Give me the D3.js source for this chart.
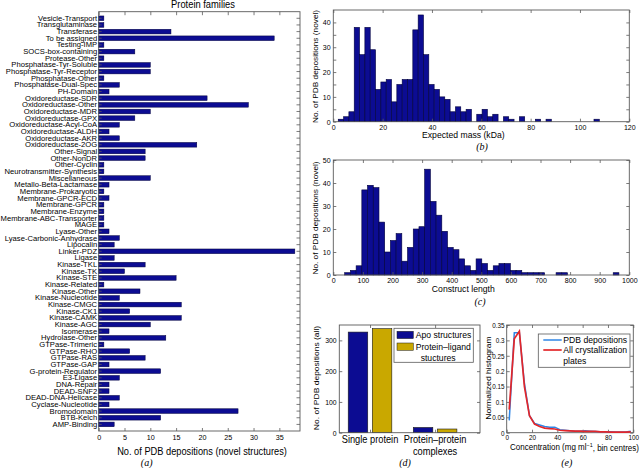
<!DOCTYPE html>
<html><head><meta charset="utf-8">
<script src="https://cdn.jsdelivr.net/npm/d3@7"></script>
<style>
body{margin:0;background:#fff;}
svg{display:block;background:#fff;}
</style></head><body>
<svg id="chart" width="640" height="468"></svg>
<script>
// ---------- DATA ----------
// (a) protein families, listed top to bottom as drawn
const families = ["Vesicle-Transport","Transglutaminase","Transferase","To be assigned","Testing-IMP","SOCS-box-containing","Protease-Other","Phosphatase-Tyr-Soluble","Phosphatase-Tyr-Receptor","Phosphatase-Other","Phosphatase-Dual-Spec","PH-Domain","Oxidoreductase-SDR","Oxidoreductase-Other","Oxidoreductase-MDR","Oxidoreductase-GPX","Oxidoreductase-Acyl-CoA","Oxidoreductase-ALDH","Oxidoreductase-AKR","Oxidoreductase-2OG","Other-Signal","Other-NonDR","Other-Cyclin","Neurotransmitter-Synthesis","Miscellaneous","Metallo-Beta-Lactamase","Membrane-Prokaryotic","Membrane-GPCR-ECD","Membrane-GPCR","Membrane-Enzyme","Membrane-ABC-Transporter","MAGE","Lyase-Other","Lyase-Carbonic-Anhydrase","Lipocalin","Linker-PDZ","Ligase","Kinase-TKL","Kinase-TK","Kinase-STE","Kinase-Related","Kinase-Other","Kinase-Nucleotide","Kinase-CMGC","Kinase-CK1","Kinase-CAMK","Kinase-AGC","Isomerase","Hydrolase-Other","GTPase-Trimeric","GTPase-RHO","GTPase-RAS","GTPase-GAP","G-protein-Regulator","E3-Ligase","DNA-Repair","DEAD-SNF2","DEAD-DNA-Helicase","Cyclase-Nucleotide","Bromodomain","BTB-Kelch","AMP-Binding"];
const familyCounts = [1,1,14,34,1,7,1,10,10,1,4,2,21,29,10,7,4,2,4,19,9,9,1,1,10,2,1,2,1,1,1,1,2,4,3,38,3,9,5,15,1,8,4,16,6,16,10,2,13,1,6,9,2,12,4,2,2,4,2,27,12,3];
const familyTicks = [0,5,10,15,20,25,30,35];

// (b) expected mass histogram
const massCounts = [1,2,4,38,27,38,29,13,16,17,8,15,17,17,37,43,27,15,13,10,9,4,6,4,5,0,3,5,2,3,0,2,1,0,2,0,0,1,0,1,0,0,0,0,0,0,0,0,1];
const massBinStart = 2.0, massBinWidth = 2.16;
const massXTicks = [0,20,40,60,80,100,120];
const massYTicks = [0,10,20,30,40];

// (c) construct length histogram
const lengthCounts = [1,2,4,37,39,38,23,10,15,18,6,12,20,21,46,32,26,19,12,11,7,4,2,7,5,2,4,5,5,2,2,1,1,1,1,0,0,1,1,0,0,0,0,0,0,0,0,1];
const lengthBinStart = 38.5, lengthBinWidth = 19.3;
const lengthXTicks = [0,100,200,300,400,500,600,700,800,900,1000];
const lengthYTicks = [0,10,20,30,40,50];

// (d) single protein vs complexes
const complexCategories = ["Single protein","Protein\u2013protein\ncomplexes"];
const complexSeries = ["Apo structures","Protein\u2013ligand\nstuctures"];
const apoValues = [327,17];
const ligandValues = [338,12];
const complexYTicks = [0,100,200,300];

// (e) concentration normalized histograms
const concCentres = [2,6,10,14,18,22,26,30,34,38,42,46,50,54,58,62,66,70,74,78,82,86,90,94,98];
const pdbHist   = [0.04,0.325,0.325,0.16,0.055,0.03,0.025,0.02,0.018,0.018,0.01,0.008,0.006,0.005,0.005,0.006,0.005,0.004,0.003,0.003,0.003,0.002,0.002,0.002,0.005];
const plateHist = [0.075,0.305,0.33,0.15,0.055,0.028,0.02,0.015,0.013,0.012,0.008,0.007,0.006,0.005,0.005,0.004,0.004,0.004,0.003,0.003,0.002,0.002,0.002,0.002,0.003];
const concSeries = ["PDB depositions","All crystallization\nplates"];
const concXTicks = [0,20,40,60,80,100];
const concYTicks = [0,0.05,0.1,0.15,0.2,0.25,0.3,0.35];

// ---------- STYLE ----------
const FONT = '"Liberation Sans", Arial, Helvetica, sans-serif';
const SERIF = '"Liberation Serif", "Times New Roman", serif';
const AX = '#5a5a5a';
const BLUE = '#0c0c92', EDGE = '#00003c', YELLOW = '#c9a800';
const SX = 0.9;

const svg = d3.select('#chart');

function addText(g, x, y, str, o = {}) {
  const size = o.size || 10, sx = o.sx || SX;
  const lines = String(str).split('\n');
  const t = g.append('text')
    .attr('transform', `translate(${x},${y}) scale(${sx},1)` + (o.rotate ? ` rotate(${o.rotate})` : ''))
    .attr('text-anchor', o.anchor || 'middle')
    .attr('font-family', o.serif ? SERIF : FONT)
    .attr('font-style', o.italic ? 'italic' : null)
    .attr('font-size', size)
    .attr('fill', '#000');
  lines.forEach((l, i) => {
    t.append('tspan').attr('x', (o.lineX && o.lineX[i]) || 0).attr('dy', i === 0 ? '0.35em' : (o.lh || 1.1) + 'em').text(l);
  });
  return t;
}

function styleAxis(sel, fs, sx) {
  sel.select('.domain').remove();
  sel.attr('font-family', FONT).attr('font-size', fs);
  sel.selectAll('.tick line').attr('stroke', AX).attr('stroke-width', 0.8);
  sel.selectAll('.tick text').attr('fill', '#000').attr('transform', `scale(${sx},1)`);
}

// Generic frame with MATLAB-like inward ticks on four sides
function frame(g, xs, ys, o) {
  const [x0, x1] = xs.range();
  const [yb, yt] = ys.range();
  const tl = o.tl || 3;
  const bottom = g.append('g').attr('transform', `translate(0,${yb})`)
    .call(d3.axisBottom(xs).tickValues(o.xTicks).tickFormat(o.xFmt || (d => d)).tickSizeInner(-tl).tickSizeOuter(0).tickPadding(o.xPad || 3));
  styleAxis(bottom, o.fs || 8, o.tsx || 0.88);
  const top = g.append('g').attr('transform', `translate(0,${yt})`)
    .call(d3.axisTop(xs).tickValues(o.xTopTicks || o.xTicks).tickFormat('').tickSizeInner(-tl).tickSizeOuter(0));
  styleAxis(top, 8, 1);
  const left = g.append('g').attr('transform', `translate(${x0},0)`)
    .call(d3.axisLeft(ys).tickValues(o.yMinor || o.yTicks).tickFormat(d => (o.yTicks.includes(d) ? (o.yFmt ? o.yFmt(d) : d) : '')).tickSizeInner(-tl).tickSizeOuter(0).tickPadding(o.yPad || 3));
  styleAxis(left, o.fs || 8, o.tsx || 0.88);
  const right = g.append('g').attr('transform', `translate(${x1},0)`)
    .call(d3.axisRight(ys).tickValues(o.yMinor || o.yTicks).tickFormat('').tickSizeInner(-tl).tickSizeOuter(0));
  styleAxis(right, 8, 1);
  g.append('rect').attr('x', x0).attr('y', yt).attr('width', x1 - x0).attr('height', yb - yt)
    .attr('fill', 'none').attr('stroke', AX).attr('stroke-width', 0.9);
  return bottom;
}

// ---------- (a) Protein families ----------
{
  const g = svg.append('g');
  const x = d3.scaleLinear().domain([0, 39]).range([98.7, 300]);
  const y = d3.scaleBand().domain(families).range([11.7, 431]).paddingInner(0.3).paddingOuter(0.64);
  g.selectAll('rect.bar').data(families).join('rect').attr('class', 'bar')
    .attr('x', x(0)).attr('y', d => y(d))
    .attr('width', (d, i) => x(familyCounts[i]) - x(0)).attr('height', y.bandwidth())
    .attr('fill', BLUE).attr('stroke', EDGE).attr('stroke-width', 0.5);
  const bottom = g.append('g').attr('transform', `translate(0,431)`)
    .call(d3.axisBottom(x).tickValues(familyTicks).tickSizeInner(-3).tickSizeOuter(0).tickPadding(3.5));
  styleAxis(bottom, 8, 0.9);
  const top = g.append('g').attr('transform', `translate(0,11.7)`)
    .call(d3.axisTop(x).tickValues(familyTicks).tickFormat('').tickSizeInner(-3.5).tickSizeOuter(0));
  styleAxis(top, 8, 1);
  const left = g.append('g').attr('transform', `translate(98.7,0)`)
    .call(d3.axisLeft(y).tickSizeInner(-3).tickSizeOuter(0).tickPadding(1.6));
  styleAxis(left, 7.8, 0.98);
  const right = g.append('g').attr('transform', `translate(300,0)`)
    .call(d3.axisRight(y).tickFormat('').tickSizeInner(-3.5).tickSizeOuter(0));
  styleAxis(right, 8, 1);
  g.append('rect').attr('x', 98.7).attr('y', 11.7).attr('width', 300 - 98.7).attr('height', 431 - 11.7)
    .attr('fill', 'none').attr('stroke', AX).attr('stroke-width', 0.9);
  addText(g, 203, 4.8, 'Protein families', {size: 10.4});
  addText(g, 202, 451, 'No. of PDB depositions (novel structures)', {size: 10.3});
  addText(g, 146.7, 462, '(a)', {size: 10, serif: true, italic: true, sx: 1});
}

// ---------- histogram helper ----------
function histogram(g, counts, start, width, x, y) {
  const bins = counts.map((c, i) => ({c, x0: start + i * width, x1: start + (i + 1) * width})).filter(b => b.c > 0);
  g.selectAll('rect.hb').data(bins).join('rect').attr('class', 'hb')
    .attr('x', d => x(d.x0)).attr('width', d => x(d.x1) - x(d.x0))
    .attr('y', d => y(d.c)).attr('height', d => y(0) - y(d.c))
    .attr('fill', BLUE).attr('stroke', EDGE).attr('stroke-width', 0.6);
}

// ---------- (b) Expected mass ----------
{
  const g = svg.append('g');
  const x = d3.scaleLinear().domain([0, 120]).range([333.3, 629.3]);
  const y = d3.scaleLinear().domain([0, 45]).range([121.7, 10]);
  histogram(g, massCounts, massBinStart, massBinWidth, x, y);
  frame(g, x, y, {xTicks: massXTicks, yTicks: massYTicks, yMinor: [0,5,10,15,20,25,30,35,40], xPad: 2.5, yPad: 3});
  addText(g, 315, 66.5, 'No. of PDB depositions (novel)', {size: 8.3, rotate: -90});
  addText(g, 463.3, 134.8, 'Expected mass (kDa)', {size: 9.6});
  addText(g, 482, 146.5, '(b)', {size: 10, serif: true, italic: true, sx: 1});
}

// ---------- (c) Construct length ----------
{
  const g = svg.append('g');
  const x = d3.scaleLinear().domain([0, 1000]).range([333.3, 629.3]);
  const y = d3.scaleLinear().domain([0, 50]).range([275, 160]);
  histogram(g, lengthCounts, lengthBinStart, lengthBinWidth, x, y);
  frame(g, x, y, {xTicks: lengthXTicks, yTicks: lengthYTicks, xPad: 2.5, yPad: 3});
  addText(g, 315, 218, 'No. of PDB depositions (novel)', {size: 8.3, rotate: -90});
  addText(g, 463.3, 288.3, 'Construct length', {size: 9.6});
  addText(g, 480, 301.5, '(c)', {size: 10, serif: true, italic: true, sx: 1});
}

// ---------- (d) Complexes ----------
{
  const g = svg.append('g');
  const x = d3.scaleLinear().domain([0.528, 2.69]).range([339.3, 480]);
  const y = d3.scaleLinear().domain([0, 350]).range([432.7, 325]);
  const half = 0.15, off = 0.185;
  const rows = [];
  complexCategories.forEach((c, i) => {
    rows.push({v: apoValues[i], cx: i + 1 - off, col: BLUE});
    rows.push({v: ligandValues[i], cx: i + 1 + off, col: YELLOW});
  });
  g.selectAll('rect.cb').data(rows).join('rect').attr('class', 'cb')
    .attr('x', d => x(d.cx - half)).attr('width', d => x(d.cx + half) - x(d.cx - half))
    .attr('y', d => y(d.v)).attr('height', d => y(0) - y(d.v))
    .attr('fill', d => d.col).attr('stroke', '#1a1a1a').attr('stroke-width', 0.6);
  frame(g, x, y, {xTicks: [1, 2], xFmt: () => '', yTicks: complexYTicks, yPad: 3, fs: 7.8});
  complexCategories.forEach((c, i) => {
    addText(g, x(i + 1), 439.5, c, {size: 10.3, lh: 1.12});
  });
  addText(g, 316.5, 378, 'No. of PDB depositions (all)', {size: 8.5, rotate: -90});
  addText(g, 405, 462, '(d)', {size: 10, serif: true, italic: true, sx: 1});
  // legend
  const lg = g.append('g');
  lg.append('rect').attr('x', 394).attr('y', 328.3).attr('width', 79.3).attr('height', 34)
    .attr('fill', '#fff').attr('stroke', AX).attr('stroke-width', 0.8);
  const sw = [{col: BLUE, y: 331.3}, {col: YELLOW, y: 343}];
  sw.forEach((s, i) => {
    lg.append('rect').attr('x', 397).attr('y', s.y).attr('width', 16.3).attr('height', 7.3)
      .attr('fill', s.col).attr('stroke', '#1a1a1a').attr('stroke-width', 0.5);
  });
  addText(lg, 415.7, 335, complexSeries[0], {size: 9.6, anchor: 'start'});
  addText(lg, 415.7, 346.7, complexSeries[1], {size: 9.6, anchor: 'start', lh: 1.15, lineX: [0, 5.5]});
}

// ---------- (e) Concentration ----------
{
  const g = svg.append('g');
  const x = d3.scaleLinear().domain([0, 100]).range([506.7, 633.3]);
  const y = d3.scaleLinear().domain([0, 0.35]).range([432.7, 325]);
  frame(g, x, y, {xTicks: concXTicks, yTicks: concYTicks, xPad: 2.5, yPad: 2.5, fs: 7.2});
  const line = d3.line().x((d, i) => x(concCentres[i])).y(d => y(d));
  g.append('path').datum(pdbHist).attr('d', line).attr('fill', 'none').attr('stroke', '#2f86e6').attr('stroke-width', 1.5);
  g.append('path').datum(plateHist).attr('d', line).attr('fill', 'none').attr('stroke', '#e3262a').attr('stroke-width', 1.7);
  addText(g, 488.5, 378, 'Normalized histogram', {size: 8.6, rotate: -90});
  const xl = addText(g, 574.5, 446.7, '', {size: 8.9});
  xl.select('tspan').text('Concentration (mg ml');
  xl.append('tspan').attr('dy', '-0.45em').attr('font-size', 6).text('\u22121');
  xl.append('tspan').attr('dy', '0.45em').text(', bin centres)');
  addText(g, 566.7, 462, '(e)', {size: 10, serif: true, italic: true, sx: 1});
  // legend
  const lg = g.append('g');
  lg.append('rect').attr('x', 538.3).attr('y', 334).attr('width', 91.7).attr('height', 33.3)
    .attr('fill', '#fff').attr('stroke', AX).attr('stroke-width', 0.8);
  lg.append('line').attr('x1', 543.3).attr('x2', 561.7).attr('y1', 340).attr('y2', 340).attr('stroke', '#2f86e6').attr('stroke-width', 1.5);
  lg.append('line').attr('x1', 543.3).attr('x2', 561.7).attr('y1', 350).attr('y2', 350).attr('stroke', '#e3262a').attr('stroke-width', 1.7);
  addText(lg, 563.3, 340, concSeries[0], {size: 9.6, anchor: 'start'});
  addText(lg, 563.3, 350, concSeries[1], {size: 9.6, anchor: 'start', lh: 1.15});
}
</script>
</body></html>
